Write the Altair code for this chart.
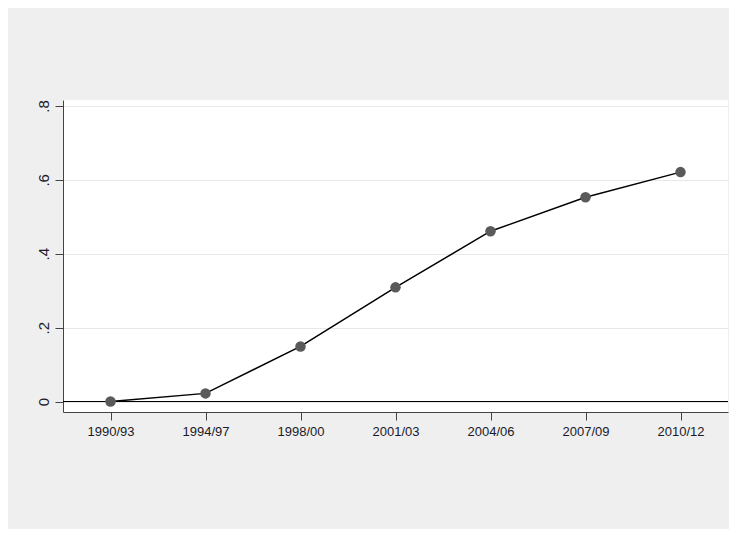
import pandas as pd
import altair as alt

periods = ['1990/93', '1994/97', '1998/00', '2001/03', '2004/06', '2007/09', '2010/12']
values = [0.0, 0.022, 0.149, 0.309, 0.461, 0.553, 0.621]

df = pd.DataFrame({'period': periods, 'value': values})

x = alt.X('period:N', sort=periods, title=None,
          scale=alt.Scale(type='point', padding=0.5),
          axis=alt.Axis(labelAngle=0, labelFontSize=13, labelColor='#1a1a2a',
                        tickSize=8, tickColor='#444', domainColor='#444',
                        labelPadding=5))
y = alt.Y('value:Q', title=None,
          scale=alt.Scale(domain=[-0.0284, 0.8162], nice=False, zero=False),
          axis=alt.Axis(values=[0, 0.2, 0.4, 0.6, 0.8],
                        labelExpr="datum.value == 0 ? '0' : replace(format(datum.value, '.1f'), '0.', '.')",
                        labelAngle=-90, labelAlign='center', labelBaseline='bottom',
                        labelFontSize=15, labelColor='#1a1a2a', labelPadding=4,
                        tickSize=8, tickColor='#444', domainColor='#444',
                        grid=True, gridColor='#e8e8e8'))

line = alt.Chart(df).mark_line(color='black', strokeWidth=1.5).encode(x=x, y=y)
pts = alt.Chart(df).mark_point(filled=True, color='#5a5a5a', size=110, opacity=1).encode(x=x, y=y)
zero = alt.Chart(pd.DataFrame({'z': [0]})).mark_rule(color='black', strokeWidth=1).encode(y='z:Q')

chart = (zero + line + pts).properties(
    width=665, height=312,
    autosize=alt.AutoSizeParams(type='none'),
    padding={'left': 55, 'top': 92, 'right': 1, 'bottom': 117},
    background='#efefef'
).configure_view(fill='white', strokeWidth=0).configure_axis(
    labelFont='Liberation Sans'
)

chart.save('out.html', embed_options={'renderer': 'svg', 'actions': False})
